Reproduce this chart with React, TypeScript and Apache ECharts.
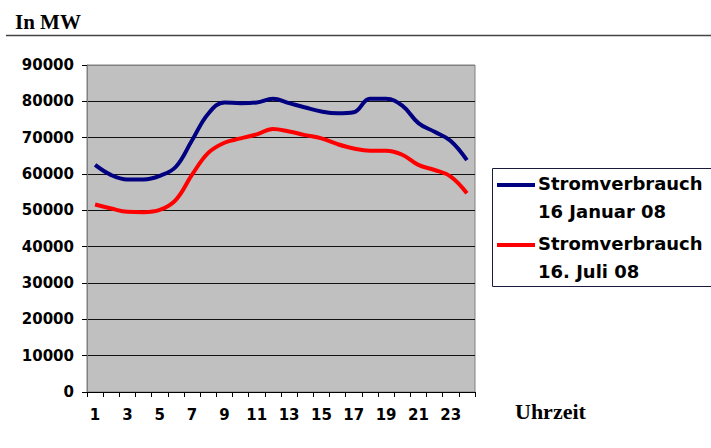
import React, { useEffect, useRef } from "react";
import * as echarts from "echarts";

const hours = ["1", "2", "3", "4", "5", "6", "7", "8", "9", "10", "11", "12", "13", "14", "15", "16", "17", "18", "19", "20", "21", "22", "23", "24"];
const januar = [62500, 59700, 58500, 58500, 59500, 62000, 69300, 76600, 79700, 79500, 79700, 80700, 79500, 78300, 77200, 76700, 77000, 80700, 80700, 78800, 74000, 71600, 69100, 63800];
const juli = [51600, 50500, 49600, 49500, 50100, 52900, 59800, 65800, 68600, 69800, 70900, 72400, 71700, 70700, 69800, 68200, 67000, 66400, 66400, 65300, 62500, 61100, 59300, 54700];
const seriesNames = ["Stromverbrauch\n16 Januar 08", "Stromverbrauch\n16. Juli 08"];
const colors = ["#000080", "#ff0000"];
const yUnit = "In MW";
const xName = "Uhrzeit";

const sans = "DejaVu Sans";
const serif = "Liberation Serif";

export default function App() {
  const ref = useRef<HTMLDivElement>(null);
  useEffect(() => {
    if (!ref.current) return;
    const chart = echarts.init(ref.current, null, { renderer: "svg" });
    const legendText = (name: string, yTop: number) => {
      const [l1, l2] = name.split("\n");
      return [
        { type: "text", left: 538, top: yTop - 11, style: { text: l1, font: `bold 18px "${sans}"`, fill: "#000" } },
        { type: "text", left: 538, top: yTop + 17, style: { text: l2, font: `bold 18px "${sans}"`, fill: "#000" } },
      ];
    };
    chart.setOption({
      animation: false,
      backgroundColor: "#ffffff",
      grid: {
        left: 87,
        top: 65,
        width: 388,
        height: 327,
        show: true,
        backgroundColor: "#c0c0c0",
        borderColor: "#808080",
        borderWidth: 1,
      },
      xAxis: {
        type: "category",
        data: hours,
        boundaryGap: true,
        axisLine: { show: true, lineStyle: { color: "#000", width: 1 } },
        axisTick: { show: true, interval: 0, length: 5, lineStyle: { color: "#000" } },
        axisLabel: {
          interval: 1,
          margin: 15,
          color: "#000",
          fontFamily: sans,
          fontWeight: "bold",
          fontSize: 15,
        },
        splitLine: { show: false },
      },
      yAxis: {
        type: "value",
        min: 0,
        max: 90000,
        interval: 10000,
        axisLine: { show: true, lineStyle: { color: "#808080", width: 1 } },
        axisTick: { show: true, length: 5, lineStyle: { color: "#000" } },
        axisLabel: {
          margin: 13,
          color: "#000",
          fontFamily: sans,
          fontWeight: "bold",
          fontSize: 15,
          formatter: (v: number) => String(v),
        },
        splitLine: {
          show: true,
          lineStyle: {
            color: ["#000", "#111", "#111", "#111", "#111", "#111", "#111", "#111", "#111", "#808080"],
            width: 1,
          },
        },
      },
      series: [
        {
          name: seriesNames[0],
          type: "line",
          data: januar,
          smooth: 0.4,
          showSymbol: false,
          symbol: "none",
          lineStyle: { color: colors[0], width: 4 },
          itemStyle: { color: colors[0] },
        },
        {
          name: seriesNames[1],
          type: "line",
          data: juli,
          smooth: 0.4,
          showSymbol: false,
          symbol: "none",
          lineStyle: { color: colors[1], width: 4 },
          itemStyle: { color: colors[1] },
        },
      ],
      graphic: [
        { type: "text", left: 15, top: 11, style: { text: yUnit, font: `bold 21px "${serif}"`, fill: "#000" } },
        { type: "line", shape: { x1: 6, y1: 35.5, x2: 711, y2: 35.5 }, style: { stroke: "#444", lineWidth: 1.5 } },
        { type: "text", left: 515, top: 400, style: { text: xName, font: `bold 22px "${serif}"`, fill: "#000" } },
        {
          type: "rect",
          shape: { x: 492.5, y: 168.5, width: 240, height: 118 },
          style: { fill: "#fff", stroke: "#1a1a3a", lineWidth: 1 },
        },
        { type: "line", shape: { x1: 497, y1: 185, x2: 535, y2: 185 }, style: { stroke: colors[0], lineWidth: 4 } },
        { type: "line", shape: { x1: 497, y1: 245, x2: 535, y2: 245 }, style: { stroke: colors[1], lineWidth: 4 } },
        ...legendText(seriesNames[0], 185),
        ...legendText(seriesNames[1], 245),
      ],
    });
    return () => chart.dispose();
  }, []);
  return (
    <div
      ref={ref}
      style={{ position: "fixed", left: 0, top: 0, width: 711, height: 448, background: "#fff" }}
    />
  );
}
